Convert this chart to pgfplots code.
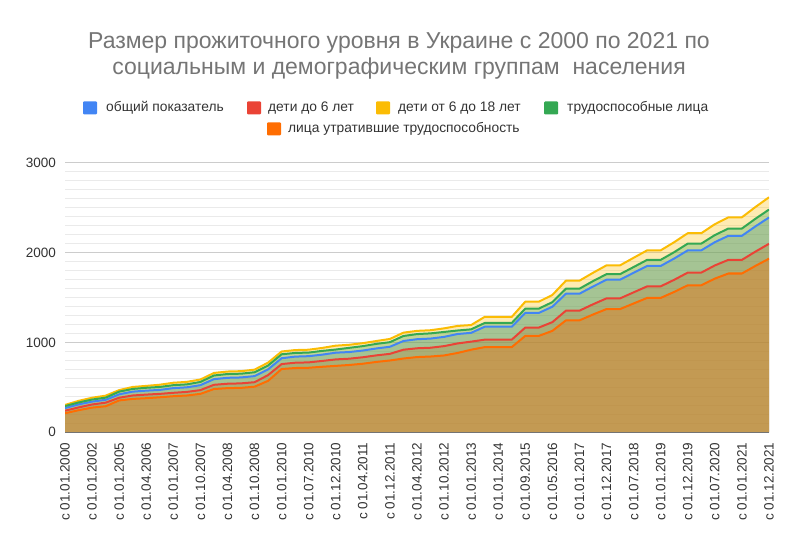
\documentclass[border=0pt]{standalone}
\usepackage{fontspec}
\setmainfont{Liberation Sans}
\usepackage{pgfplots}
\usepackage{pgfplotstable}
\pgfplotsset{compat=1.18}
\definecolor{cblue}{HTML}{4285F4}
\definecolor{cred}{HTML}{EA4335}
\definecolor{cyellow}{HTML}{FBBC04}
\definecolor{cgreen}{HTML}{34A853}
\definecolor{corange}{HTML}{FF6D01}
\definecolor{ctitle}{HTML}{757575}
\definecolor{ctext}{HTML}{333333}
\definecolor{gridmaj}{HTML}{CCCCCC}
\definecolor{gridmin}{HTML}{EAEAEA}
\newcommand\tickfont{\fontsize{13.5bp}{16bp}\selectfont}
\newcommand\legfont{\fontsize{13.8bp}{16bp}\selectfont}
\newcommand\titlefont{\fontsize{23bp}{27bp}\selectfont}

\pgfplotstableread{
i gen u6 c618 able dis
0 270 240 305 292 212
1 311 277 350 332 246
2 342 310 385 365 275
3 362 330 408 386 290
4 423 385 470 453 355
5 453 410 505 483 372
6 464 420 517 496 380
7 472 428 530 505 390
8 492 440 552 525 402
9 501 450 562 534 410
10 525 470 588 561 428
11 592 529 661 633 482
12 607 541 677 649 492
13 611 545 681 653 495
14 626 558 698 669 508
15 701 637 776 744 573
16 825 760 900 869 705
17 843 775 916 884 716
18 848 779 920 888 719
19 865 795 940 907 730
20 887 812 965 922 740
21 894 820 975 941 750
22 911 836 993 960 764
23 934 857 1017 985 784
24 953 874 1040 1004 800
25 1017 920 1110 1073 822
26 1037 936 1130 1094 838
27 1044 942 1137 1102 844
28 1063 960 1158 1118 856
29 1095 990 1185 1134 884
30 1108 1010 1195 1147 920
31 1176 1032 1286 1218 949
32 1176 1032 1286 1218 949
33 1176 1032 1286 1218 949
34 1330 1167 1455 1378 1074
35 1330 1167 1455 1378 1074
36 1399 1227 1530 1450 1130
37 1544 1355 1689 1600 1247
38 1544 1355 1689 1600 1247
39 1624 1426 1777 1684 1312
40 1700 1492 1860 1762 1373
41 1700 1492 1860 1762 1373
42 1777 1559 1944 1841 1435
43 1853 1626 2027 1921 1497
44 1853 1626 2027 1921 1497
45 1936 1699 2118 2007 1564
46 2027 1779 2218 2102 1638
47 2027 1779 2218 2102 1638
48 2118 1859 2318 2197 1712
49 2189 1921 2395 2270 1769
50 2189 1921 2395 2270 1769
51 2294 2013 2510 2379 1854
52 2393 2100 2618 2481 1934
}\data

\begin{document}
\begin{tikzpicture}
\useasboundingbox (0,0) rectangle (797bp,558bp);
\begin{axis}[
  at={(65bp,125.7bp)}, anchor=south west,
  scale only axis, width=704bp, height=269.3bp,
  xmin=0, xmax=52, ymin=0, ymax=3000,
  axis line style={draw=none},
  major tick length=0pt, minor tick length=0pt,
  xtick={0,2,...,52},
  xticklabels={с 01.01.2000,с 01.01.2002,с 01.01.2005,с 01.04.2006,с 01.01.2007,с 01.10.2007,с 01.04.2008,с 01.10.2008,с 01.01.2010,с 01.07.2010,с 01.12.2010,с 01.04.2011,с 01.12.2011,с 01.04.2012,с 01.10.2012,с 01.01.2013,с 01.01.2014,с 01.09.2015,с 01.05.2016,с 01.01.2017,с 01.12.2017,с 01.07.2018,с 01.01.2019,с 01.12.2019,с 01.07.2020,с 01.01.2021,с 01.12.2021},
  xticklabel style={rotate=90, anchor=east, font=\tickfont, text=ctext, inner sep=0pt},
  xticklabel shift=10bp,
  ytick={0,1000,2000,3000},
  minor y tick num=9,
  ymajorgrids, yminorgrids,
  major grid style={draw=gridmaj, line width=1bp},
  minor grid style={draw=gridmin, line width=1bp},
  yticklabel style={font=\tickfont, text=ctext, inner sep=0pt},
  yticklabel shift=9bp,
  /pgf/number format/assume math mode=true,
  /pgf/number format/set thousands separator={},
]
\addplot[draw=none, fill=cblue, fill opacity=0.3] table[x=i,y=gen]{\data} \closedcycle;
\addplot[draw=none, fill=cred, fill opacity=0.3] table[x=i,y=u6]{\data} \closedcycle;
\addplot[draw=none, fill=cyellow, fill opacity=0.3] table[x=i,y=c618]{\data} \closedcycle;
\addplot[draw=none, fill=cgreen, fill opacity=0.3] table[x=i,y=able]{\data} \closedcycle;
\addplot[draw=none, fill=corange, fill opacity=0.3] table[x=i,y=dis]{\data} \closedcycle;
\addplot[cblue, line width=2bp, line join=round] table[x=i,y=gen]{\data};
\addplot[cred, line width=2bp, line join=round] table[x=i,y=u6]{\data};
\addplot[cyellow, line width=2bp, line join=round] table[x=i,y=c618]{\data};
\addplot[cgreen, line width=2bp, line join=round] table[x=i,y=able]{\data};
\addplot[corange, line width=2bp, line join=round] table[x=i,y=dis]{\data};
\addplot[draw=black!55, line width=1bp] coordinates {(0,0) (52,0)};
\end{axis}
\node[font=\titlefont, text=ctitle, anchor=base, inner sep=0pt] at (399bp,509.7bp) {Размер прожиточного уровня в Украине с 2000 по 2021 по};
\node[font=\titlefont, text=ctitle, anchor=base, inner sep=0pt] at (399bp,483bp) {социальным и демографическим группам~ населения};
\fill[cblue, rounded corners=1bp] (83bp,443.5bp) rectangle (97bp,456.5bp);
\node[font=\legfont, text=ctext, anchor=west, inner sep=0pt] at (106bp,450bp) {общий показатель};
\fill[cred, rounded corners=1bp] (247bp,443.5bp) rectangle (261bp,456.5bp);
\node[font=\legfont, text=ctext, anchor=west, inner sep=0pt] at (268bp,450bp) {дети до 6 лет};
\fill[cyellow, rounded corners=1bp] (376bp,443.5bp) rectangle (390bp,456.5bp);
\node[font=\legfont, text=ctext, anchor=west, inner sep=0pt] at (398bp,450bp) {дети от 6 до 18 лет};
\fill[cgreen, rounded corners=1bp] (544bp,443.5bp) rectangle (558bp,456.5bp);
\node[font=\legfont, text=ctext, anchor=west, inner sep=0pt] at (567bp,450bp) {трудоспособные лица};
\fill[corange, rounded corners=1bp] (267bp,422.5bp) rectangle (281bp,435.5bp);
\node[font=\legfont, text=ctext, anchor=west, inner sep=0pt] at (288bp,429bp) {лица утратившие трудоспособность};
\end{tikzpicture}
\end{document}
